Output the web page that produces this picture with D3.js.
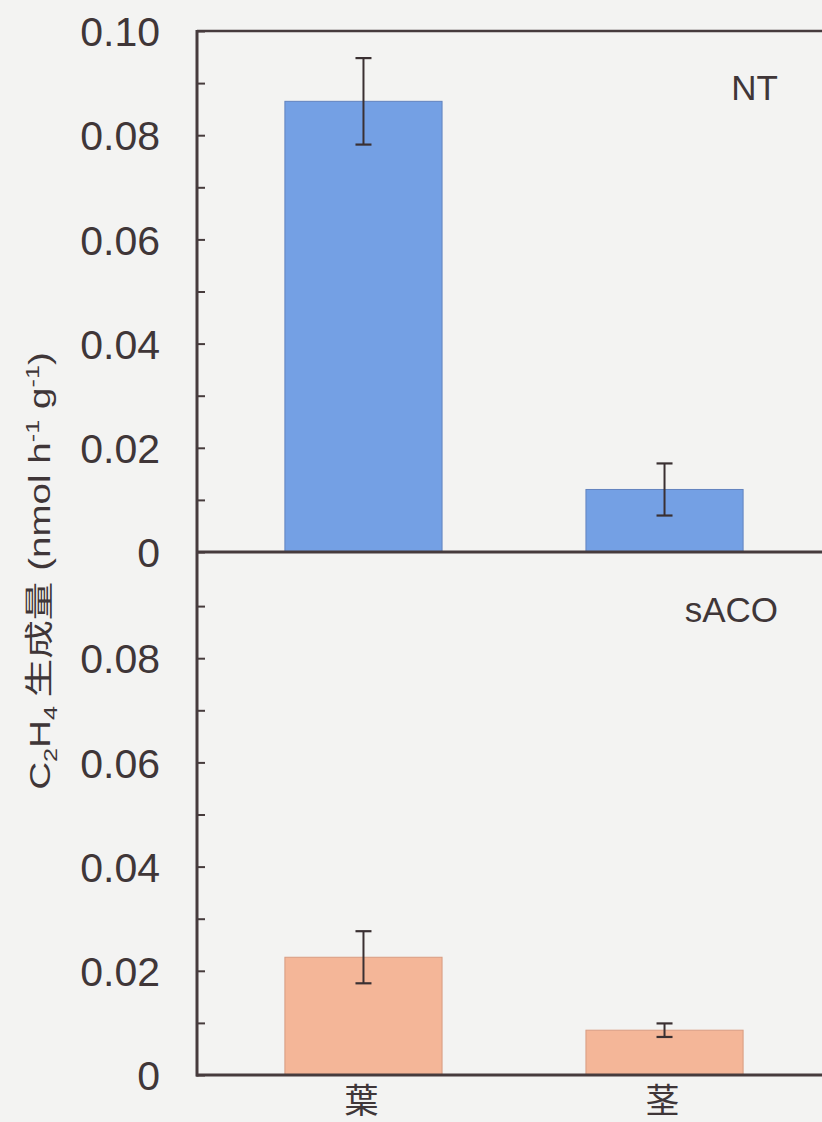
<!DOCTYPE html>
<html><head><meta charset="utf-8">
<script src="https://cdn.jsdelivr.net/npm/d3@7"></script>
<style>
html,body{margin:0;padding:0;background:#f3f3f2;}
svg{display:block;}
</style></head>
<body>
<svg id="chart" width="822" height="1122"></svg>
<script>
// ---- data ----
const categories = ["葉", "茎"];
const panelNames = ["NT", "sACO"];
const ntValues = [0.0865, 0.0120];
const ntErrors = [0.0083, 0.0050];
const sacoValues = [0.0226, 0.0086];
const sacoErrors = [0.0050, 0.0013];
const topTickLabels = [0, 0.02, 0.04, 0.06, 0.08, 0.10];
const bottomTickLabels = [0, 0.02, 0.04, 0.06, 0.08];
const minorTickValues = [0, 0.01, 0.02, 0.03, 0.04, 0.05, 0.06, 0.07, 0.08, 0.09, 0.10];
const yTitle = {main: "C", sub1: "2", mid: "H", sub2: "4", rest: " 生成量 (nmol h", sup1: "-1", g: " g", sup2: "-1", end: ")"};

const axisColor = "#463b3d";
const textColor = "#3f3638";
const latin = "'Liberation Sans', Arial, sans-serif";
const cjk = "'Noto Sans CJK JP', 'Noto Sans CJK SC', sans-serif";

const svg = d3.select("#chart");
svg.append("rect").attr("width", 822).attr("height", 1122).attr("fill", "#f3f3f2");

const x0 = 197, xR = 822;
const x = d3.scaleBand().domain(categories).range([x0, 831]).paddingInner(0.478).paddingOuter(0.292);

const panels = [
  {name: panelNames[0], values: ntValues, errors: ntErrors, y: d3.scaleLinear().domain([0, 0.1]).range([552, 31]),
   labels: topTickLabels, fill: "#74a0e4", stroke: "#6283bf", nameY: 100},
  {name: panelNames[1], values: sacoValues, errors: sacoErrors, y: d3.scaleLinear().domain([0, 0.1]).range([1075, 554]),
   labels: bottomTickLabels, fill: "#f4b698", stroke: "#d89c82", nameY: 622}
];

const fmt = d => d === 0 ? "0" : d.toFixed(2);

panels.forEach((p, pi) => {
  const g = svg.append("g");
  // bars
  g.selectAll("rect.bar").data(p.values).join("rect")
    .attr("class", "bar")
    .attr("x", (d, i) => x(categories[i]))
    .attr("width", x.bandwidth())
    .attr("y", d => p.y(d))
    .attr("height", d => p.y(0) - p.y(d))
    .attr("fill", p.fill).attr("stroke", p.stroke).attr("stroke-width", 1);
  // error bars
  const eg = g.selectAll("g.err").data(p.values).join("g").attr("class", "err");
  eg.append("line")
    .attr("x1", (d, i) => x(categories[i]) + x.bandwidth() / 2)
    .attr("x2", (d, i) => x(categories[i]) + x.bandwidth() / 2)
    .attr("y1", (d, i) => p.y(d + p.errors[i]))
    .attr("y2", (d, i) => p.y(d - p.errors[i]))
    .attr("stroke", "#3a3032").attr("stroke-width", 2);
  [1, -1].forEach(s => {
    eg.append("line")
      .attr("x1", (d, i) => x(categories[i]) + x.bandwidth() / 2 - 8)
      .attr("x2", (d, i) => x(categories[i]) + x.bandwidth() / 2 + 8)
      .attr("y1", (d, i) => p.y(d + s * p.errors[i]))
      .attr("y2", (d, i) => p.y(d + s * p.errors[i]))
      .attr("stroke", "#3a3032").attr("stroke-width", 2.2);
  });
  // y axis ticks (inward) and labels
  const ticks = pi === 0 ? minorTickValues : minorTickValues.filter(v => v < 0.095);
  const ax = d3.axisLeft(p.y).tickValues(ticks).tickSize(-8).tickPadding(37)
    .tickFormat(d => p.labels.some(l => Math.abs(l - d) < 1e-9) ? fmt(d) : "");
  const axg = g.append("g").attr("transform", `translate(${x0},0)`).call(ax);
  axg.select(".domain").remove();
  axg.selectAll(".tick line").attr("stroke", axisColor).attr("stroke-width", 2);
  axg.selectAll(".tick text").attr("fill", textColor)
    .style("font-family", latin).style("font-size", "41px").attr("dy", "0.36em");
  // baseline
  g.append("line").attr("x1", x0 - 1).attr("x2", xR).attr("y1", p.y(0)).attr("y2", p.y(0))
    .attr("stroke", axisColor).attr("stroke-width", 3);
  // panel name
  g.append("text").attr("x", 778).attr("y", p.nameY).attr("text-anchor", "end")
    .attr("fill", textColor).style("font-family", latin).style("font-size", "35px").text(p.name);
});

// frame: top border and left axis
svg.append("line").attr("x1", x0).attr("x2", xR).attr("y1", 31).attr("y2", 31)
  .attr("stroke", axisColor).attr("stroke-width", 2.5);
svg.append("line").attr("x1", x0).attr("x2", x0).attr("y1", 30).attr("y2", 1076.5)
  .attr("stroke", axisColor).attr("stroke-width", 3);

// category labels
svg.selectAll("text.cat").data(categories).join("text").attr("class", "cat")
  .attr("x", d => x(d) + x.bandwidth() / 2 - 2).attr("y", 1113)
  .attr("text-anchor", "middle").attr("fill", textColor)
  .style("font-family", cjk).style("font-size", "34px").text(d => d);

// y-axis title
const tt = svg.append("text").attr("text-anchor", "middle").attr("fill", textColor)
  .style("font-family", latin).style("font-size", "29px");
tt.append("tspan").text(yTitle.main);
tt.append("tspan").attr("dy", 7).style("font-size", "19px").text(yTitle.sub1);
tt.append("tspan").attr("dy", -7).text(yTitle.mid);
tt.append("tspan").attr("dy", 7).style("font-size", "19px").text(yTitle.sub2);
tt.append("tspan").attr("dy", -7).style("font-family", cjk + ", " + latin).text(" 生成量");
tt.append("tspan").text(" (nmol h");
tt.append("tspan").attr("dy", -11).style("font-size", "19px").text(yTitle.sup1);
tt.append("tspan").attr("dy", 11).text(yTitle.g);
tt.append("tspan").attr("dy", -11).style("font-size", "19px").text(yTitle.sup2);
tt.append("tspan").attr("dy", 11).text(yTitle.end);
const len = tt.node().getComputedTextLength();
const sx = 438 / len;
tt.attr("transform", `translate(50,571) rotate(-90) scale(${sx},1)`);
</script>
</body></html>
